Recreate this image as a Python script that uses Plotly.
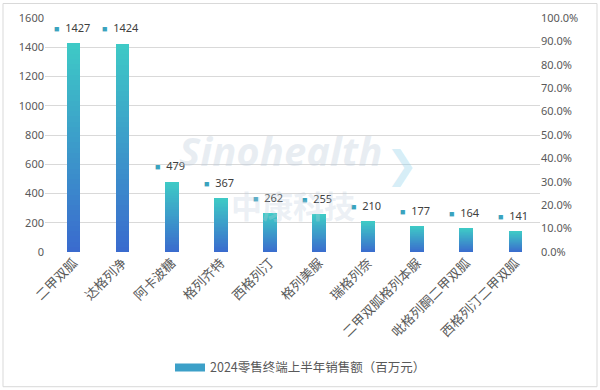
import plotly.graph_objects as go

categories = ["二甲双胍", "达格列净", "阿卡波糖", "格列齐特", "西格列汀", "格列美脲",
              "瑞格列奈", "二甲双胍格列本脲", "吡格列酮二甲双胍", "西格列汀二甲双胍"]
sales = [1427, 1424, 479, 367, 262, 255, 210, 177, 164, 141]
series_name = "2024零售终端上半年销售额（百万元）"
left_ticks = [0, 200, 400, 600, 800, 1000, 1200, 1400, 1600]
right_ticks = [i / 10 for i in range(11)]

W, H = 600, 390
ML, MR, MT, MB = 45, 60, 17.5, 138
PW, PH = W - ML - MR, H - MT - MB

bottom_rgb = (58, 106, 206)
top_rgb = (62, 202, 198)
N = 40

fig = go.Figure()
for k in range(N):
    t = (k + 0.5) / N
    c = tuple(round(bottom_rgb[j] + (top_rgb[j] - bottom_rgb[j]) * t) for j in range(3))
    fig.add_trace(go.Bar(
        x=categories, y=[v / N for v in sales],
        marker=dict(color="rgb(%d,%d,%d)" % c, line=dict(width=0)),
        width=0.28, showlegend=False, hoverinfo="skip", yaxis="y"))

# legend entry
fig.add_trace(go.Scatter(x=[None], y=[None], mode="lines", name=series_name,
                         line=dict(color="rgb(60,160,200)", width=8)))
# dummy to show secondary axis
fig.add_trace(go.Scatter(x=[categories[0]], y=[0], mode="markers", yaxis="y2",
                         marker=dict(opacity=0), showlegend=False, hoverinfo="skip"))

for cat, v in zip(categories, sales):
    fig.add_annotation(
        x=cat, y=v, xref="x", yref="y", yshift=16, xshift=-2,
        text='<span style="color:#3AA3BE;font-size:9px">■</span>\u00a0\u00a0%d' % v,
        showarrow=False, font=dict(family="Noto Sans", size=11, color="#404040"))

# watermark
def px(xp, yp):
    return (xp - ML) / PW, (MT + PH - yp) / PH

wx, wy = px(280, 180)
fig.add_annotation(x=wx, y=wy, xref="paper", yref="paper",
                   text="<b><i>Sinohealth</i></b>", showarrow=False,
                   font=dict(family="Noto Sans", size=40, color="rgba(190,205,220,0.35)"))
wx, wy = px(420, 165)
fig.add_annotation(x=wx, y=wy, xref="paper", yref="paper",
                   text="<b>❯</b>", showarrow=False,
                   font=dict(family="DejaVu Sans", size=38, color="rgba(150,210,235,0.4)"))
wx, wy = px(293, 229)
fig.add_annotation(x=wx, y=wy, xref="paper", yref="paper",
                   text="<b>中康科技</b>", showarrow=False,
                   font=dict(family="Noto Sans CJK SC", size=31, color="rgba(190,205,220,0.3)"))

# outer border
x0, y0 = px(3, 387)
x1, y1 = px(597, 3)
fig.add_shape(type="rect", xref="paper", yref="paper", x0=x0, x1=x1, y0=y0, y1=y1,
              line=dict(color="#D9D9D9", width=1), fillcolor="rgba(0,0,0,0)", layer="above")

fig.update_layout(
    width=W, height=H, margin=dict(l=ML, r=MR, t=MT, b=MB, autoexpand=False),
    paper_bgcolor="white", plot_bgcolor="white",
    barmode="stack", bargap=0.72,
    font=dict(family="Noto Sans", size=11, color="#595959"),
    xaxis=dict(tickangle=-45, showgrid=False, showline=False, ticks="", automargin=False,
               tickfont=dict(family="Noto Sans CJK SC", size=13, color="#595959")),
    yaxis=dict(range=[0, 1600], tickvals=left_ticks, showgrid=True, gridcolor="#D9D9D9",
               gridwidth=1, zeroline=False, showline=False, ticks="", automargin=False,
               tickfont=dict(family="Noto Sans", size=11, color="#595959")),
    yaxis2=dict(range=[0, 1], tickvals=right_ticks, tickformat=".1%", overlaying="y",
                side="right", showgrid=False, zeroline=False, showline=False, ticks="",
                automargin=False,
                tickfont=dict(family="Noto Sans", size=11, color="#595959")),
    legend=dict(orientation="h", x=0.5 + 8 / PW, xanchor="center", y=-(368 - 252) / PH,
                yanchor="middle", font=dict(family="Noto Sans CJK SC", size=12.5, color="#595959"),
                itemwidth=30),
)

fig.write_html("out.html", post_script="document.body.style.margin='0';",
               config={"displayModeBar": False})
